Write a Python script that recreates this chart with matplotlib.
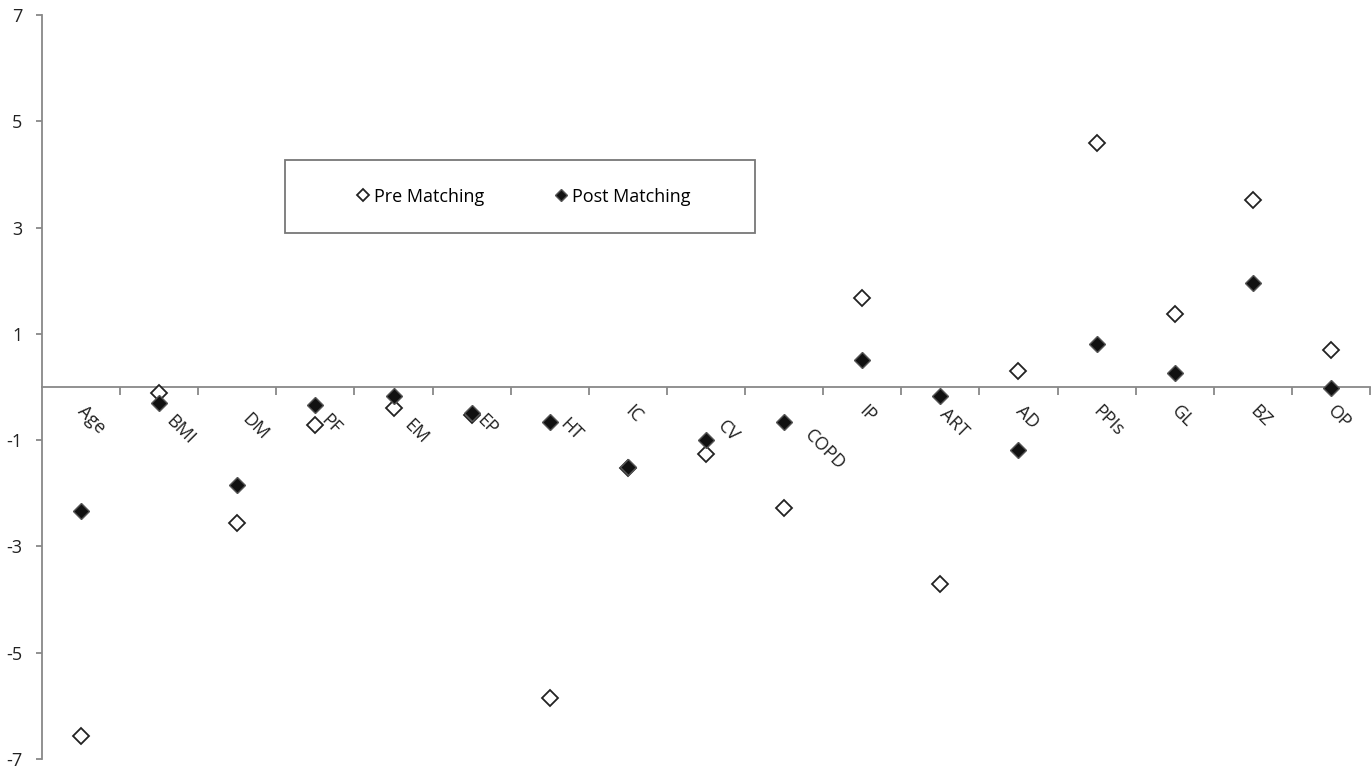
import numpy as np
import matplotlib
matplotlib.use("Agg")
import matplotlib.pyplot as plt
from matplotlib.patches import Rectangle

plt.rcParams['font.family'] = ['Open Sans', 'DejaVu Sans']
plt.rcParams['axes.unicode_minus'] = False

# standardized differences per covariate, before and after matching
covariates = ['Age', 'BMI', 'DM', 'PF', 'EM', 'EP', 'HT', 'IC', 'CV', 'COPD',
              'IP', 'ART', 'AD', 'PPIs', 'GL', 'BZ', 'OP']
pre_matching = [-6.57, -0.12, -2.55, -0.72, -0.40, -0.53, -5.86, -1.52, -1.27, -2.27,
                1.68, -3.71, 0.30, 4.60, 1.38, 3.52, 0.69]
post_matching = [-2.34, -0.30, -1.84, -0.34, -0.17, -0.49, -0.66, -1.50, -1.00, -0.66,
                 0.50, -0.17, -1.19, 0.80, 0.27, 1.96, -0.02]
y_ticks = [-7, -5, -3, -1, 1, 3, 5, 7]

W, H = 1372, 767
fig = plt.figure(figsize=(W / 100, H / 100), dpi=100)
ax = fig.add_axes([42 / W, 1 - 759 / H, 1328 / W, 744 / H])

x = np.arange(len(covariates))
ax.plot(x, pre_matching, linestyle='none', marker='D', markersize=8.2,
        markerfacecolor='white', markeredgecolor='#222222', markeredgewidth=1.3,
        label='Pre Matching', zorder=3)
ax.plot(x, post_matching, linestyle='none', marker='D', markersize=8.2,
        markerfacecolor='#111111', markeredgecolor='#555555', markeredgewidth=1.0,
        label='Post Matching', zorder=4)

ax.set_xlim(-0.5, len(covariates) - 0.5)
ax.set_ylim(-7, 7)

axis_col = '#888888'
for s in ['top', 'right']:
    ax.spines[s].set_visible(False)
ax.spines['bottom'].set_position(('data', 0))
ax.spines['bottom'].set_color(axis_col)
ax.spines['left'].set_color(axis_col)
ax.spines['bottom'].set_linewidth(1.3)
ax.spines['left'].set_linewidth(1.3)

ax.set_yticks(y_ticks)
ax.tick_params(axis='y', direction='out', length=4, width=1.3, color=axis_col,
               labelsize=13, pad=10, labelcolor='#222222')

# boundary ticks between categories
ax.set_xticks(np.arange(0.5, len(covariates), 1.0))
ax.tick_params(axis='x', which='major', direction='out', length=6, width=1.3,
               color=axis_col, labelbottom=False)

# slanted category names; some are nudged down-right clear of the markers (px)
nudge = {'BMI': 10, 'DM': 8, 'PF': 9, 'EM': 14, 'EP': 9, 'HT': 13,
         'CV': 15, 'COPD': 24, 'ART': 3}
for i, name in enumerate(covariates):
    d = nudge.get(name, 0)
    ax.annotate(name, xy=(i, 0), xycoords='data',
                xytext=((6 + d) * 0.72, (-15 - d) * 0.72), textcoords='offset points',
                rotation=-45, rotation_mode='anchor', ha='left', va='top',
                fontsize=13, color='#222222', annotation_clip=False)

# legend box
frame_x0 = (285 - 42) / 1328
frame_y0 = (759 - 233) / 744
frame_w = (755 - 285) / 1328
frame_h = (233 - 160) / 744
ax.add_patch(Rectangle((frame_x0, frame_y0), frame_w, frame_h, transform=ax.transAxes,
                       facecolor='white', edgecolor='#777777', linewidth=1.3, zorder=5))
leg = ax.legend(loc='center',
                bbox_to_anchor=(frame_x0 + frame_w / 2 + 4 / 1328, frame_y0 + frame_h / 2),
                ncol=2, frameon=False, fontsize=13, markerscale=0.75, handlelength=0.6,
                handletextpad=0.3, columnspacing=3.95)
leg.set_zorder(6)

fig.savefig('out.png', dpi=100, facecolor='white')
